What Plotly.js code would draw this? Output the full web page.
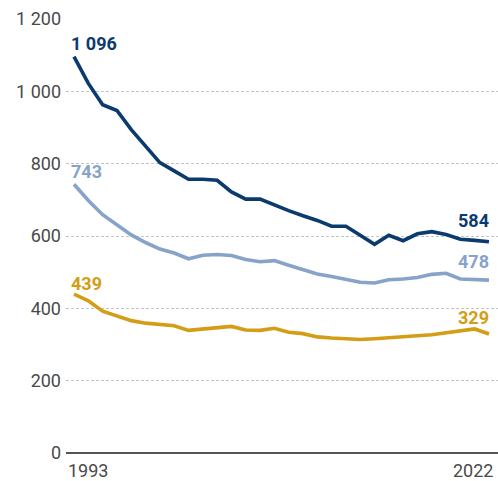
<!DOCTYPE html>
<html>
<head>
<meta charset="utf-8">
<script src="https://cdn.plot.ly/plotly-3.0.1.min.js"></script>
<style>html,body{margin:0;padding:0;background:#fff;}#chart{width:498px;height:481px;}</style>
</head>
<body>
<div id="chart"></div>
<script>
const years = [];
for (let y = 1993; y <= 2022; y++) years.push(y);

const seriesNavy = [1096,1022,963,947,894,849,803,780,757,757,754,722,702,702,685,670,656,643,627,627,602,577,602,587,606,612,604,591,588,584];
const seriesLight = [743,698,659,631,603,582,564,553,537,547,549,546,535,529,532,519,507,495,488,480,472,470,479,481,485,494,497,481,480,478];
const seriesGold = [439,421,392,378,366,359,355,352,339,343,346,350,340,339,345,334,330,321,318,316,314,316,318,321,324,327,333,337,343,329];

const yTickVals = [0,200,400,600,800,1000,1200];
const yTickText = ["0","200","400","600","800","1 000","1 200"];
const xTickLabels = ["1993","2022"];

const colNavy = "#0b3a6f";
const colLight = "#87a3c9";
const colGold = "#d49d15";

function fmt(v){ return String(v).replace(/\B(?=(\d{3})+(?!\d))/g, " "); }

const mk = (ys, c) => ({x: years, y: ys, type: "scatter", mode: "lines",
  line: {color: c, width: 3.6}, hoverinfo: "skip", cliponaxis: false});

const data = [mk(seriesGold, colGold), mk(seriesLight, colLight), mk(seriesNavy, colNavy)];

const n = years.length - 1;
const lblFont = (c) => ({family: "Roboto, sans-serif", size: 18, color: c, weight: 900});
const ann = [];
[[seriesNavy, colNavy, 1], [seriesLight, colLight, 0], [seriesGold, colGold, -2]].forEach(([s, c, ysh]) => {
  ann.push({x: years[0], y: s[0], text: "<b>" + fmt(s[0]) + "</b>", showarrow: false, xanchor: "left", yanchor: "bottom", xshift: -5, yshift: ysh, font: lblFont(c)});
});
[[seriesNavy, colNavy, 9], [seriesLight, colLight, 6], [seriesGold, colGold, 4]].forEach(([s, c, ysh]) => {
  ann.push({x: years[n], y: s[n], text: "<b>" + fmt(s[n]) + "</b>", showarrow: false, xanchor: "right", yanchor: "bottom", xshift: 2, yshift: ysh, font: lblFont(c)});
});
const tickFont = {family: "Roboto, sans-serif", size: 18, color: "#4a4a4a"};
ann.push({x: years[0], y: 0, text: xTickLabels[0], showarrow: false, xanchor: "left", yanchor: "top", xshift: -8, yshift: -5, font: tickFont});
ann.push({x: years[n], y: 0, text: xTickLabels[1], showarrow: false, xanchor: "right", yanchor: "top", xshift: 6, yshift: -5, font: tickFont});

const layout = {
  width: 498, height: 481,
  margin: {l: 66, r: 0, t: 19, b: 28, pad: 0},
  paper_bgcolor: "#fff", plot_bgcolor: "#fff",
  showlegend: false,
  xaxis: {range: [1992.44, 2022.63], showgrid: false, zeroline: false, showline: false, showticklabels: false, ticks: "", fixedrange: true},
  yaxis: {range: [0, 1200], tickvals: yTickVals, ticktext: yTickText, showgrid: true, gridcolor: "#c4c4c4", gridwidth: 1, griddash: "3px,2px",
    zeroline: true, zerolinecolor: "#555", zerolinewidth: 1.5, showline: false, ticks: "",
    tickfont: tickFont, ticklabelstandoff: 4, fixedrange: true},
  annotations: ann
};

Plotly.newPlot("chart", data, layout, {displayModeBar: false, staticPlot: true});
</script>
</body>
</html>
